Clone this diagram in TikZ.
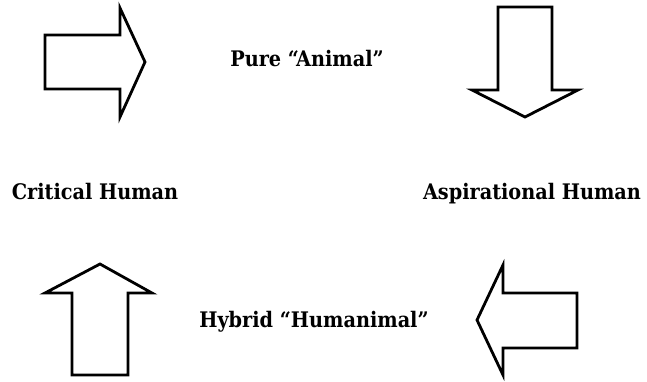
\documentclass[tikz,border=0pt]{standalone}
\usepackage{fontspec}
\setmainfont{DejaVu Serif Condensed}
\begin{document}
\begin{tikzpicture}[x=1bp,y=-1bp,
  blockarrow/.style={draw=black,line width=2.8bp,line join=miter,fill=white},
  lbl/.style={font=\fontsize{21.5}{24}\selectfont\bfseries,inner sep=0pt,anchor=base}]
\useasboundingbox[fill=white] (0,0) rectangle (647,381);
% right arrow (top-left)
\draw[blockarrow] (45,35) -- (120,35) -- (120,8) -- (145,62) -- (120,117) -- (120,89) -- (45,89) -- cycle;
% down arrow (top-right)
\draw[blockarrow] (498,7) -- (552,7) -- (552,90) -- (578,90) -- (525,117) -- (472,90) -- (498,90) -- cycle;
% up arrow (bottom-left)
\draw[blockarrow] (72,375) -- (72,293) -- (45,293) -- (100,264) -- (152,293) -- (128,293) -- (128,375) -- cycle;
% left arrow (bottom-right)
\draw[blockarrow] (577,293) -- (503,293) -- (503,265) -- (477,320) -- (503,375) -- (503,348) -- (577,348) -- cycle;
\node[lbl] (pure) at (307,66) {Pure “Animal”};
\node[lbl] (crit) at (95,199) {Critical Human};
\node[lbl] (asp) at (532,199) {Aspirational Human};
\node[lbl] (hyb) at (314,327) {Hybrid “Humanimal”};
\end{tikzpicture}
\end{document}
